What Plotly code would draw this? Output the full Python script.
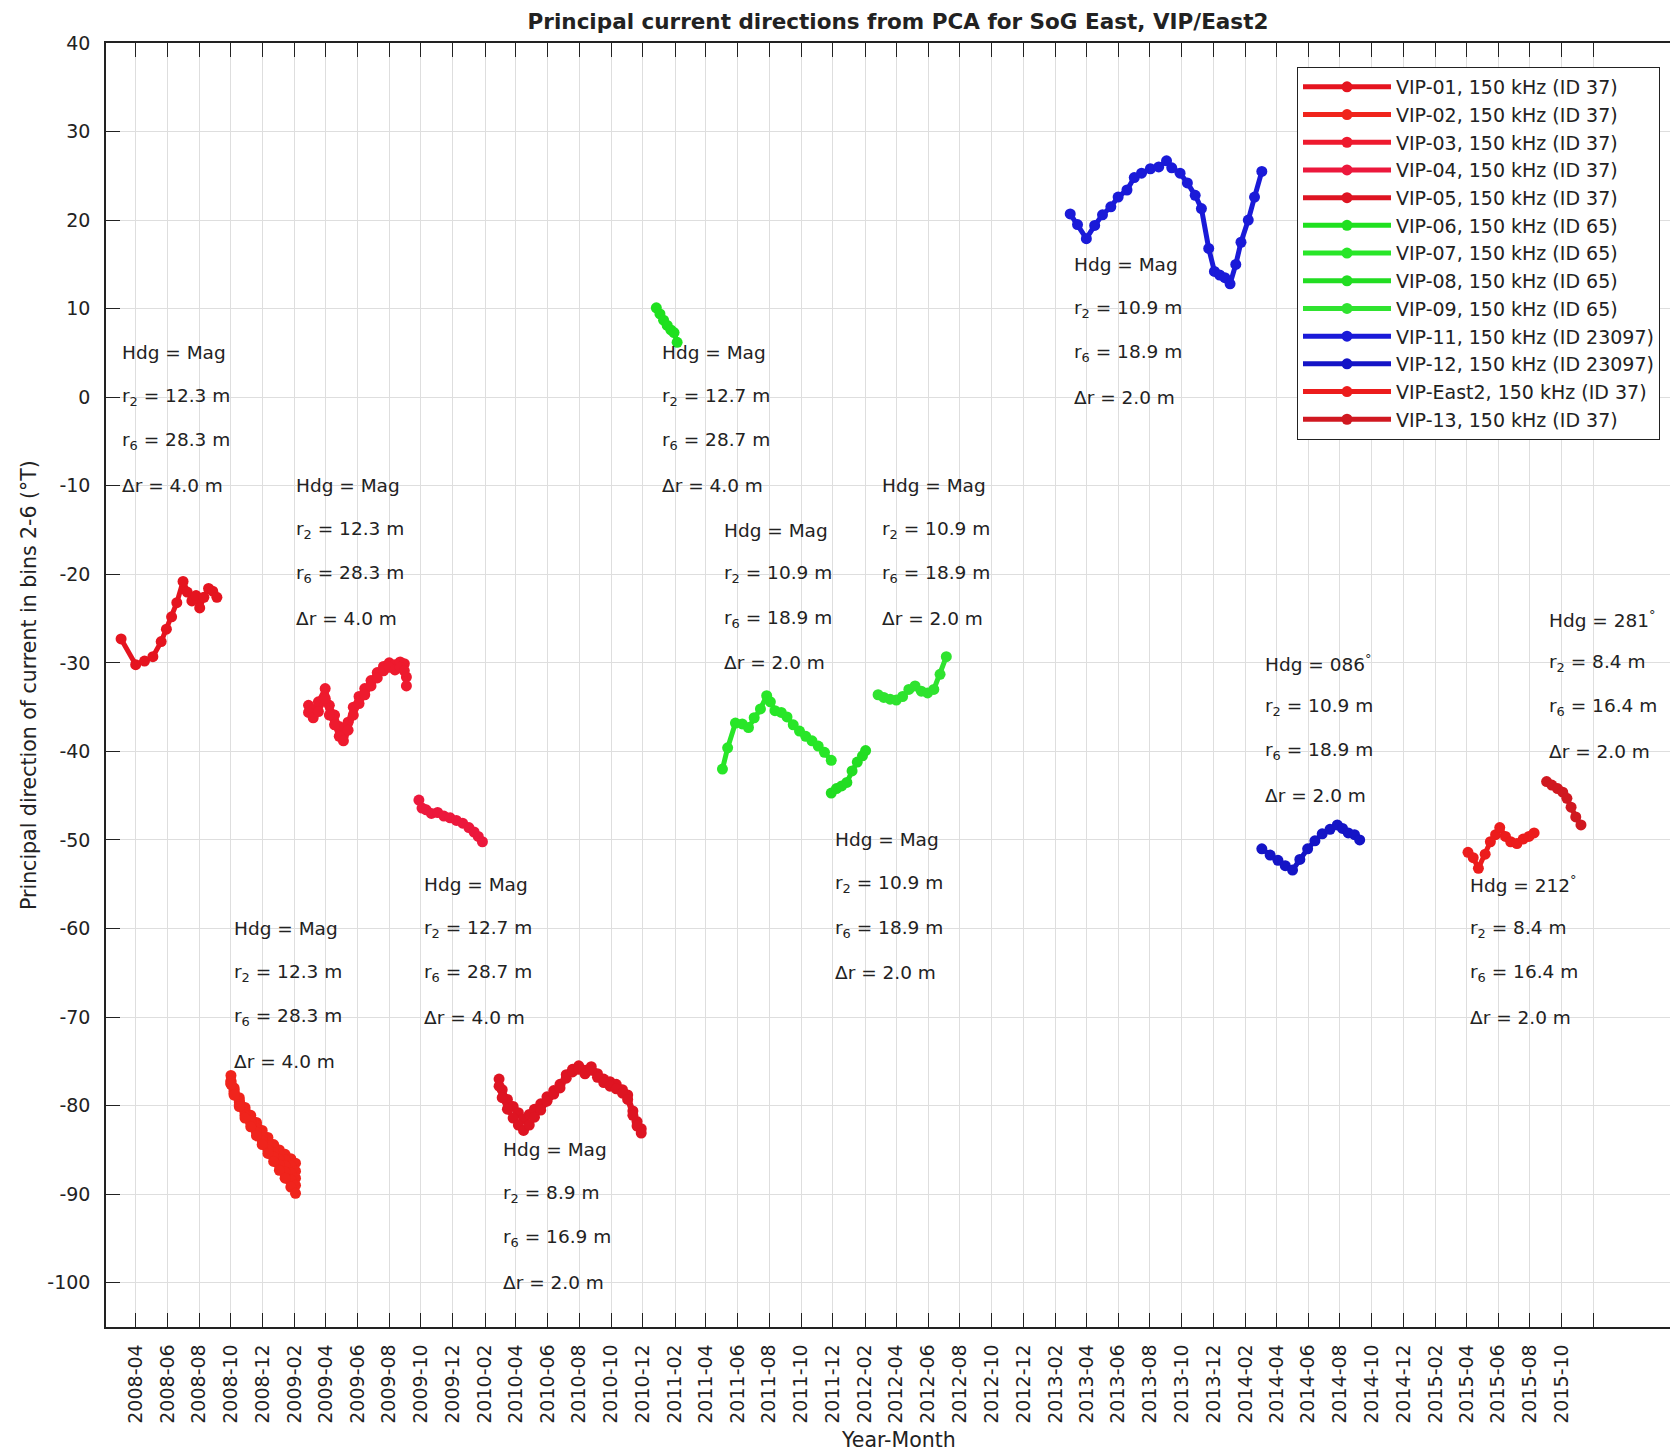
import plotly.graph_objects as go

FONT = "DejaVu Sans"
INK = "#222222"

# ---------------------------------------------------------------------------
# Principal direction of current (deg T, bins 2-6) for each deployment
# ---------------------------------------------------------------------------
vip01_t = ["2008-03-04", "2008-04-01", "2008-04-18", "2008-05-04", "2008-05-20",
           "2008-05-30", "2008-06-09", "2008-06-19", "2008-07-01", "2008-07-09",
           "2008-07-18", "2008-07-26", "2008-08-02", "2008-08-10", "2008-08-19",
           "2008-08-27", "2008-09-04"]
vip01_dir = [-27.3, -30.2, -29.8, -29.3, -27.6, -26.2, -24.8, -23.2, -20.8, -22.0,
             -23.0, -22.4, -23.8, -22.6, -21.6, -21.9, -22.6]

vip02_t = ["2008-10-01", "2008-10-07", "2008-10-17", "2008-10-28", "2008-11-08",
           "2008-11-19", "2008-11-30", "2008-12-11", "2008-12-22", "2009-01-02",
           "2009-01-13", "2009-01-24", "2009-02-02"]
vip02_bin2 = [-76.6, -78.0, -79.1, -80.2, -81.1, -81.9, -82.8, -83.6, -84.4, -85.0, -85.5, -86.0, -86.5]
vip02_bin3 = [-77.2, -78.2, -79.4, -80.5, -81.4, -82.2, -83.2, -84.1, -84.8, -85.5, -86.1, -86.8, -87.4]
vip02_bin4 = [-77.3, -78.4, -79.6, -80.8, -81.7, -82.6, -83.6, -84.5, -85.3, -86.1, -86.8, -87.6, -88.2]
vip02_bin5 = [-77.5, -78.6, -79.9, -81.1, -82.0, -83.0, -84.0, -85.0, -85.8, -86.7, -87.5, -88.4, -89.0]
vip02_bin6 = [-77.6, -78.8, -80.1, -81.4, -82.4, -83.4, -84.4, -85.4, -86.3, -87.3, -88.2, -89.2, -89.9]

vip03_t = ["2009-02-27", "2009-03-08", "2009-03-18", "2009-03-31", "2009-04-08",
           "2009-04-18", "2009-04-27", "2009-05-05", "2009-05-14", "2009-05-24",
           "2009-06-04", "2009-06-15", "2009-06-27", "2009-07-09", "2009-07-21",
           "2009-08-01", "2009-08-12", "2009-08-22", "2009-08-30", "2009-09-03"]
vip03_upper = [-34.8, -35.3, -34.4, -32.9, -34.8, -35.9, -37.2, -38.2, -36.7, -35.0,
               -33.8, -32.9, -32.0, -31.1, -30.4, -30.0, -30.2, -29.9, -30.1, -31.6]
vip03_lower = [-35.6, -36.2, -35.5, -34.0, -35.9, -37.0, -38.3, -38.8, -37.6, -35.9,
               -34.6, -33.6, -32.6, -31.7, -30.9, -30.5, -30.8, -30.5, -30.9, -32.6]

vip04_t = ["2009-09-27", "2009-10-03", "2009-10-11", "2009-10-21", "2009-11-02",
           "2009-11-14", "2009-11-26", "2009-12-08", "2009-12-20", "2010-01-01",
           "2010-01-11", "2010-01-19", "2010-01-27"]
vip04_dir = [-45.5, -46.4, -46.6, -47.0, -46.9, -47.3, -47.5, -47.8, -48.1, -48.6,
             -49.1, -49.6, -50.2]

vip05_t = ["2010-02-28", "2010-03-06", "2010-03-16", "2010-03-27", "2010-04-06",
           "2010-04-16", "2010-04-27", "2010-05-07", "2010-05-19", "2010-05-31",
           "2010-06-13", "2010-06-25", "2010-07-07", "2010-07-19", "2010-07-31",
           "2010-08-12", "2010-08-24", "2010-09-05", "2010-09-17", "2010-09-29",
           "2010-10-11", "2010-10-23", "2010-11-02", "2010-11-12", "2010-11-20",
           "2010-11-28"]
vip05_upper = [-77.0, -78.2, -79.3, -80.1, -80.8, -81.5, -81.0, -80.4, -79.8, -79.0,
               -78.3, -77.6, -76.5, -75.9, -75.5, -76.0, -75.6, -76.4, -77.0, -77.3,
               -77.6, -78.2, -78.8, -80.6, -81.8, -82.6]
vip05_lower = [-77.8, -79.1, -80.4, -81.4, -82.2, -82.8, -82.2, -81.3, -80.5, -79.5,
               -78.7, -78.0, -76.9, -76.2, -75.9, -76.4, -76.0, -76.8, -77.4, -77.8,
               -78.1, -78.6, -79.3, -81.1, -82.3, -83.1]

vip06_t = ["2010-12-27", "2011-01-03", "2011-01-10", "2011-01-17", "2011-01-24",
           "2011-01-30", "2011-02-05"]
vip06_dir = [10.1, 9.4, 8.7, 8.1, 7.6, 7.3, 6.2]

vip07_t = ["2011-05-03", "2011-05-13", "2011-05-28", "2011-06-10", "2011-06-22",
           "2011-07-03", "2011-07-15", "2011-07-27", "2011-08-03", "2011-08-12",
           "2011-08-24", "2011-09-04", "2011-09-16", "2011-09-28", "2011-10-10",
           "2011-10-22", "2011-11-03", "2011-11-15", "2011-11-28"]
vip07_dir = [-42.0, -39.6, -36.8, -36.9, -37.3, -36.2, -35.2, -33.7, -34.4, -35.4,
             -35.6, -36.1, -37.0, -37.7, -38.3, -38.8, -39.4, -40.1, -41.0]

vip08_t = ["2011-11-28", "2011-12-08", "2011-12-18", "2011-12-28", "2012-01-07",
           "2012-01-17", "2012-01-27", "2012-02-02"]
vip08_dir = [-44.7, -44.2, -43.9, -43.5, -42.2, -41.2, -40.5, -39.9]

vip09_t = ["2012-02-26", "2012-03-08", "2012-03-20", "2012-04-01", "2012-04-13",
           "2012-04-25", "2012-05-07", "2012-05-19", "2012-05-31", "2012-06-12",
           "2012-06-24", "2012-07-06"]
vip09_dir = [-33.6, -33.9, -34.1, -34.2, -33.8, -33.0, -32.6, -33.2, -33.4, -33.0,
             -31.3, -29.3]

vip11_t = ["2013-03-01", "2013-03-15", "2013-04-01", "2013-04-17", "2013-05-02",
           "2013-05-18", "2013-06-01", "2013-06-18", "2013-07-02", "2013-07-16",
           "2013-08-02", "2013-08-18", "2013-09-02", "2013-09-12", "2013-09-28",
           "2013-10-12", "2013-10-27", "2013-11-08", "2013-11-22", "2013-12-03",
           "2013-12-13", "2013-12-23", "2014-01-02", "2014-01-13", "2014-01-23",
           "2014-02-06", "2014-02-18", "2014-03-04"]
vip11_dir = [20.7, 19.5, 17.9, 19.4, 20.6, 21.5, 22.6, 23.4, 24.8, 25.3,
             25.8, 26.0, 26.7, 25.9, 25.3, 24.2, 22.8, 21.3, 16.8, 14.2,
             13.8, 13.5, 12.8, 15.0, 17.5, 20.0, 22.6, 25.5]

vip12_t = ["2014-03-04", "2014-03-20", "2014-04-04", "2014-04-18", "2014-05-02",
           "2014-05-16", "2014-05-31", "2014-06-14", "2014-06-28", "2014-07-13",
           "2014-07-27", "2014-08-06", "2014-08-17", "2014-08-29", "2014-09-08"]
vip12_dir = [-51.0, -51.7, -52.3, -52.9, -53.4, -52.2, -51.0, -50.1, -49.3, -48.8,
             -48.3, -48.7, -49.2, -49.4, -50.0]

east2_t = ["2015-04-04", "2015-04-14", "2015-04-24", "2015-05-07", "2015-05-17",
           "2015-05-27", "2015-06-04", "2015-06-15", "2015-06-25", "2015-07-07",
           "2015-07-19", "2015-07-30", "2015-08-09"]
east2_dir = [-51.4, -52.0, -53.2, -51.6, -50.2, -49.4, -48.6, -49.6, -50.2, -50.4,
             -49.9, -49.6, -49.2]

vip13_t = ["2015-09-02", "2015-09-12", "2015-09-23", "2015-10-03", "2015-10-11",
           "2015-10-19", "2015-10-28", "2015-11-07"]
vip13_dir = [-43.4, -43.8, -44.2, -44.6, -45.3, -46.3, -47.4, -48.3]

# x-axis ticks (every second month); the final tick is left unlabelled
tick_months = ["2008-04", "2008-06", "2008-08", "2008-10", "2008-12",
               "2009-02", "2009-04", "2009-06", "2009-08", "2009-10", "2009-12",
               "2010-02", "2010-04", "2010-06", "2010-08", "2010-10", "2010-12",
               "2011-02", "2011-04", "2011-06", "2011-08", "2011-10", "2011-12",
               "2012-02", "2012-04", "2012-06", "2012-08", "2012-10", "2012-12",
               "2013-02", "2013-04", "2013-06", "2013-08", "2013-10", "2013-12",
               "2014-02", "2014-04", "2014-06", "2014-08", "2014-10", "2014-12",
               "2015-02", "2015-04", "2015-06", "2015-08", "2015-10", "2015-12"]
tick_text = tick_months[:-1] + [""]
y_ticks = [40, 30, 20, 10, 0, -10, -20, -30, -40, -50, -60, -70, -80, -90, -100]
y_tick_text = ["40", "30", "20", "10", "0", "-10", "-20", "-30", "-40", "-50",
               "-60", "-70", "-80", "-90", "-100"]

# deployments: legend name, colour, time axis, one or more bin series
deployments = [
    ("VIP-01, 150 kHz (ID 37)", "#e5141f", vip01_t, [vip01_dir]),
    ("VIP-02, 150 kHz (ID 37)", "#f0241c", vip02_t, [vip02_bin2, vip02_bin3, vip02_bin4, vip02_bin5, vip02_bin6]),
    ("VIP-03, 150 kHz (ID 37)", "#ee1a2e", vip03_t, [vip03_upper, vip03_lower]),
    ("VIP-04, 150 kHz (ID 37)", "#ec183c", vip04_t, [vip04_dir]),
    ("VIP-05, 150 kHz (ID 37)", "#de1422", vip05_t, [vip05_upper, vip05_lower]),
    ("VIP-06, 150 kHz (ID 65)", "#1fe01f", vip06_t, [vip06_dir]),
    ("VIP-07, 150 kHz (ID 65)", "#28e628", vip07_t, [vip07_dir]),
    ("VIP-08, 150 kHz (ID 65)", "#22dd22", vip08_t, [vip08_dir]),
    ("VIP-09, 150 kHz (ID 65)", "#2fe32f", vip09_t, [vip09_dir]),
    ("VIP-11, 150 kHz (ID 23097)", "#1a1ad8", vip11_t, [vip11_dir]),
    ("VIP-12, 150 kHz (ID 23097)", "#1414c6", vip12_t, [vip12_dir]),
    ("VIP-East2, 150 kHz (ID 37)", "#ec1c1c", east2_t, [east2_dir]),
    ("VIP-13, 150 kHz (ID 37)", "#d01820", vip13_t, [vip13_dir]),
]

# instrument set-up notes: (anchor date, y of first line, heading, r2, r6, dr)
setup_notes = [
    ("2008-03-02", 5, "Mag", "12.3", "28.3", "4.0"),
    ("2008-10-03", -60, "Mag", "12.3", "28.3", "4.0"),
    ("2009-01-31", -10, "Mag", "12.3", "28.3", "4.0"),
    ("2009-10-02", -55, "Mag", "12.7", "28.7", "4.0"),
    ("2010-03-03", -85, "Mag", "8.9", "16.9", "2.0"),
    ("2011-01-03", 5, "Mag", "12.7", "28.7", "4.0"),
    ("2011-05-03", -15, "Mag", "10.9", "18.9", "2.0"),
    ("2011-12-02", -50, "Mag", "10.9", "18.9", "2.0"),
    ("2012-03-01", -10, "Mag", "10.9", "18.9", "2.0"),
    ("2013-03-05", 15, "Mag", "10.9", "18.9", "2.0"),
    ("2014-03-07", -30, "086<sup>°</sup>", "10.9", "18.9", "2.0"),
    ("2015-04-04", -55, "212<sup>°</sup>", "8.4", "16.4", "2.0"),
    ("2015-09-02", -25, "281<sup>°</sup>", "8.4", "16.4", "2.0"),
]
note_step = 5  # vertical spacing of the note lines, in degrees

# ---------------------------------------------------------------------------
fig = go.Figure()

for name, color, t, bins in deployments:
    for k, series in enumerate(bins):
        fig.add_trace(go.Scatter(
            x=t, y=series, mode="lines+markers", name=name,
            legendgroup=name, showlegend=(k == 0),
            line=dict(color=color, width=5),
            marker=dict(color=color, size=11),
            hoverinfo="skip",
        ))

annotations = []
for date, y0, hdg, r2, r6, dr in setup_notes:
    lines = [f"Hdg = {hdg}",
             f"r<sub>2</sub> = {r2} m",
             f"r<sub>6</sub> = {r6} m",
             f"\u0394r = {dr} m"]
    for i, txt in enumerate(lines):
        annotations.append(dict(
            x=date, y=y0 - i * note_step, xref="x", yref="y",
            text=txt, showarrow=False, xanchor="left", yanchor="middle",
            font=dict(family=FONT, size=18.5, color=INK),
        ))

# axis titles
annotations.append(dict(
    x=(29 - 106) / 1564, y=0.5, xref="paper", yref="paper",
    text="Principal direction of current in bins 2-6 (°T)", textangle=-90,
    showarrow=False, xanchor="center", yanchor="middle",
    font=dict(family=FONT, size=20.5, color=INK),
))
annotations.append(dict(
    x=(898 - 106) / 1564, y=(1327 - 1440) / 1284, xref="paper", yref="paper",
    text="Year-Month", showarrow=False, xanchor="center", yanchor="middle",
    font=dict(family=FONT, size=20.5, color=INK),
))

fig.update_layout(
    width=1670, height=1455,
    margin=dict(l=106, r=0, t=43, b=128, pad=0),
    paper_bgcolor="white", plot_bgcolor="white",
    font=dict(family=FONT, size=19, color=INK),
    title=dict(
        text="<b>Principal current directions from PCA for SoG East, VIP/East2</b>",
        x=898 / 1670, xref="container", xanchor="center",
        y=1 - 21 / 1455, yref="container", yanchor="middle",
        font=dict(family=FONT, size=21.5, color=INK),
    ),
    legend=dict(
        x=(1297 - 106) / 1564, y=(1327 - 67) / 1284, xref="paper", yref="paper",
        xanchor="left", yanchor="top",
        bgcolor="white", bordercolor=INK, borderwidth=1,
        font=dict(family=FONT, size=19, color=INK),
        itemwidth=88, tracegroupgap=0,
    ),
    annotations=annotations,
)

fig.update_xaxes(
    type="date", range=["2008-02-04", "2016-04-26"],
    tickvals=[m + "-01" for m in tick_months], ticktext=tick_text,
    tickangle=-90, ticks="inside", ticklen=14, tickwidth=1, tickcolor=INK,
    showline=True, linecolor=INK, linewidth=1.5, mirror="ticks",
    showgrid=True, gridcolor="#dedede", gridwidth=1, zeroline=False,
    tickfont=dict(family=FONT, size=19, color=INK), ticklabelstandoff=8,
)
fig.update_yaxes(
    range=[-105, 40], tickvals=y_ticks, ticktext=y_tick_text,
    ticks="inside", ticklen=14, tickwidth=1, tickcolor=INK,
    showline=True, linecolor=INK, linewidth=1.5, mirror=False,
    showgrid=True, gridcolor="#dedede", gridwidth=1, zeroline=False,
    tickfont=dict(family=FONT, size=19, color=INK), ticklabelstandoff=10,
)

fig.write_html("out.html")
